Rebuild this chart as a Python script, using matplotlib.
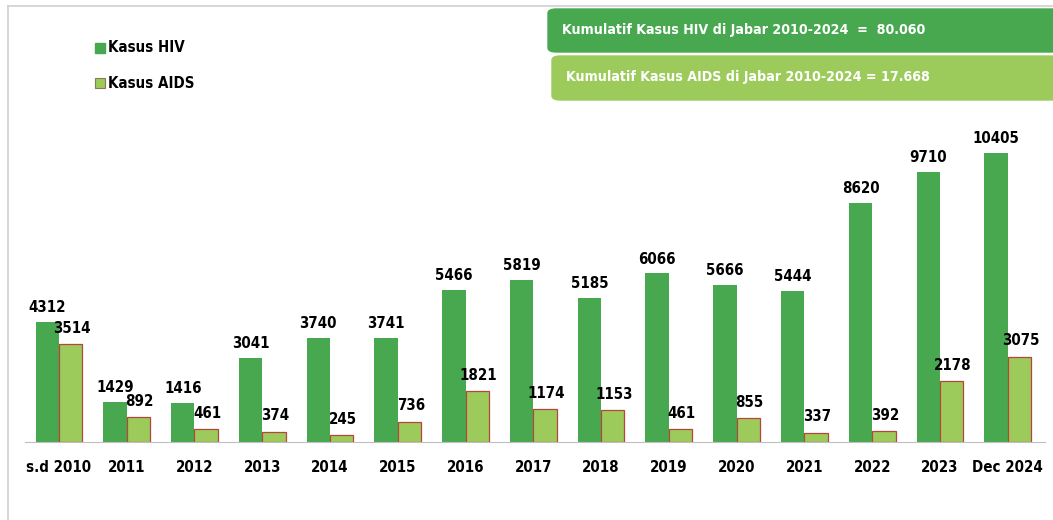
import matplotlib.pyplot as plt
import numpy as np
from matplotlib import font_manager
from matplotlib.patches import FancyBboxPatch, Rectangle
from matplotlib.lines import Line2D

categories = ['s.d 2010', '2011', '2012', '2013', '2014', '2015', '2016', '2017',
              '2018', '2019', '2020', '2021', '2022', '2023', 'Dec 2024']
hiv = [4312, 1429, 1416, 3041, 3740, 3741, 5466, 5819, 5185, 6066, 5666, 5444, 8620, 9710, 10405]
aids = [3514, 892, 461, 374, 245, 736, 1821, 1174, 1153, 461, 855, 337, 392, 2178, 3075]
box_texts = ['Kumulatif Kasus HIV di Jabar 2010-2024  =  80.060',
             'Kumulatif Kasus AIDS di Jabar 2010-2024 = 17.668']

HIV_COL = '#47a84f'
AIDS_COL = '#9dcb5b'

# look for a narrow/condensed bold face (closest to Calibri)
narrow = None
for f in font_manager.fontManager.ttflist:
    n = f.name.lower()
    if ('narrow' in n or 'condensed' in n or f.stretch in ('condensed', 'semi-condensed')) \
            and f.weight in ('bold', 700):
        narrow = f.name
        break
families = ([narrow] if narrow else []) + ['DejaVu Sans']
plt.rcParams['font.family'] = families
plt.rcParams['font.stretch'] = 'condensed'
FS = 10.8 if narrow else 10
BOX_FS = 10.2 if narrow else 9.5

W, H = 1053, 520
fig = plt.figure(figsize=(W / 100, H / 100), dpi=100)

# axes placed in pixel coords: left 25, right 1045, baseline y=442, top y=108.6
ax = fig.add_axes([25 / W, (H - 442) / H, 1020 / W, (442 - 108.6) / H])
x = np.arange(len(categories))
bw = 0.345
ax.bar(x - bw / 2, hiv, width=bw, color=HIV_COL)
ax.bar(x + bw / 2, aids, width=bw, color=AIDS_COL, edgecolor='#b5463c', linewidth=0.9)
for xi, v in zip(x, hiv):
    ax.annotate(str(v), (xi - bw / 2, v), xytext=(0, 5), textcoords='offset points',
                ha='center', va='bottom', fontsize=FS, fontweight='bold')
for xi, v in zip(x, aids):
    ax.annotate(str(v), (xi + bw / 2, v), xytext=(1, 6), textcoords='offset points',
                ha='center', va='bottom', fontsize=FS, fontweight='bold')

ax.set_xlim(-0.5, 14.55)
ax.set_ylim(0, 12000)
ax.set_xticks(x)
ax.set_xticklabels(categories, fontsize=FS, fontweight='bold')
ax.tick_params(axis='x', length=0, pad=13)
ax.set_yticks([])
for s in ['top', 'right', 'left']:
    ax.spines[s].set_visible(False)
ax.spines['bottom'].set_color('#bfbfbf')
ax.patch.set_alpha(0)

# legend
fig.add_artist(Rectangle((95 / W, 1 - 53 / H), 10 / W, 10 / H, color=HIV_COL))
fig.add_artist(Rectangle((95 / W, 1 - 88 / H), 10 / W, 10 / H, facecolor=AIDS_COL,
                         edgecolor='#8a7a5a', linewidth=0.8))
fig.text(108 / W, 1 - 48 / H, 'Kasus HIV', fontsize=FS, fontweight='bold', va='center')
fig.text(108 / W, 1 - 83 / H, 'Kasus AIDS', fontsize=FS, fontweight='bold', va='center')

# summary boxes
fig.add_artist(FancyBboxPatch((548 / W, 1 - 52 / H), 520 / W, 43 / H,
                              boxstyle='round,pad=0,rounding_size=0.008',
                              color=HIV_COL, transform=fig.transFigure))
fig.add_artist(FancyBboxPatch((552 / W, 1 - 100 / H), 520 / W, 44 / H,
                              boxstyle='round,pad=0,rounding_size=0.008',
                              color=AIDS_COL, transform=fig.transFigure))
fig.text(562 / W, 1 - 30 / H, box_texts[0], fontsize=BOX_FS, fontweight='bold',
         color='white', va='center')
fig.text(566 / W, 1 - 77 / H, box_texts[1], fontsize=BOX_FS, fontweight='bold',
         color='white', va='center')

# frame lines
fig.add_artist(Line2D([8 / W, 1], [1 - 6 / H] * 2, color='#d0d0d0', linewidth=1.2))
fig.add_artist(Line2D([8 / W] * 2, [0, 1 - 6 / H], color='#d0d0d0', linewidth=1.2))

fig.savefig('out.png', dpi=100)
